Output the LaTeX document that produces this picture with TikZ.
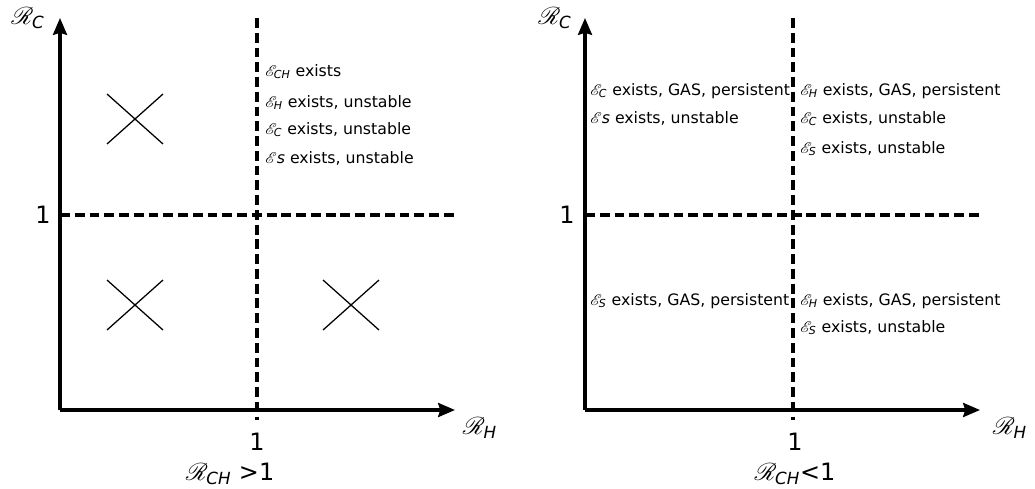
\documentclass[tikz,border=0pt]{standalone}
\usepackage{fontspec}
\setmainfont{DejaVu Sans}
\usepackage{amsmath}
\usepackage{mathrsfs}
\usepackage{tikz}
\usetikzlibrary{arrows.meta}

\begin{document}
\begin{tikzpicture}[
  every node/.style={font=\fontsize{11.2}{13}\selectfont},
  axis/.style={line width=2.2pt, ->},
  divider/.style={line width=2.3pt, dash pattern=on 7pt off 3.5pt},
  crossline/.style={line width=0.9pt},
  info/.style={anchor=base west, inner sep=0pt},
  big/.style={font=\fontsize{17}{20}\selectfont},
  >={Stealth[length=12pt,width=10pt,inset=1.5pt]}
]
\useasboundingbox (0,0) rectangle (25.875,12.2);

% left panel: R_CH > 1
\coordinate (O1) at (1.5,1.95);
\coordinate (ytop1) at (1.5,11.75);
\coordinate (xend1) at (11.375,1.95);
\coordinate (vtop1) at (6.425,11.75);
\coordinate (vbot1) at (6.425,1.7);
\coordinate (hl1) at (1.5,6.825);
\coordinate (hr1) at (11.375,6.825);

\draw[divider] (vtop1) -- (vbot1);
\draw[divider] (hl1) -- (hr1);
\draw[axis] (O1) -- (ytop1);
\draw[axis] (O1) -- (xend1);

\node[big] (rc1) at (0.7,11.75) {$\mathscr{R}_{\textit{C}}$};
\node[big, anchor=west] (rh1) at (11.45,1.5) {$\mathscr{R}_{\textit{H}}$};
\node[big] (one1y) at (1.075,6.825) {1};
\node[big] (one1x) at (6.425,1.15) {1};
\node[big] (cond1) at (5.75,0.35) {$\mathscr{R}_{\textit{CH}}$ >1};

\node[info] (ech) at (6.625,10.3) {$\mathscr{E}_{\textit{CH}}$ exists};
\node[info] (eh1) at (6.625,9.525) {$\mathscr{E}_{\textit{H}}$ exists, unstable};
\node[info] (ec1) at (6.625,8.85) {$\mathscr{E}_{\textit{C}}$ exists, unstable};
\node[info] (es1) at (6.625,8.125) {$\mathscr{E}$\textit{s} exists, unstable};

\foreach \x/\y in {3.375/9.225, 3.375/4.575, 8.775/4.575}
  \draw[crossline] (\x-0.7,\y+0.625) -- (\x+0.7,\y-0.625)
                   (\x-0.7,\y-0.625) -- (\x+0.7,\y+0.625);

% right panel: R_CH < 1
\coordinate (O2) at (14.625,1.95);
\coordinate (ytop2) at (14.625,11.75);
\coordinate (xend2) at (24.5,1.95);
\coordinate (vtop2) at (19.825,11.75);
\coordinate (vbot2) at (19.825,1.7);
\coordinate (hl2) at (14.625,6.825);
\coordinate (hr2) at (24.5,6.825);

\draw[divider] (vtop2) -- (vbot2);
\draw[divider] (hl2) -- (hr2);
\draw[axis] (O2) -- (ytop2);
\draw[axis] (O2) -- (xend2);

\node[big] (rc2) at (13.875,11.75) {$\mathscr{R}_{\textit{C}}$};
\node[big, anchor=west] (rh2) at (24.7,1.5) {$\mathscr{R}_{\textit{H}}$};
\node[big] (one2y) at (14.175,6.825) {1};
\node[big] (one2x) at (19.875,1.15) {1};
\node[big] (cond2) at (19.875,0.35) {$\mathscr{R}_{\textit{CH}}$<1};

\node[info] (ecgas) at (14.75,9.825) {$\mathscr{E}_{\textit{C}}$ exists, GAS, persistent};
\node[info] (es2) at (14.75,9.125) {$\mathscr{E}$\textit{s} exists, unstable};
\node[info] (ehgas) at (20.0,9.825) {$\mathscr{E}_{\textit{H}}$ exists, GAS, persistent};
\node[info] (ec2) at (20.0,9.125) {$\mathscr{E}_{\textit{C}}$ exists, unstable};
\node[info] (es3) at (20.0,8.375) {$\mathscr{E}_{\textit{S}}$ exists, unstable};
\node[info] (esgas) at (14.75,4.575) {$\mathscr{E}_{\textit{S}}$ exists, GAS, persistent};
\node[info] (ehgas2) at (20.0,4.575) {$\mathscr{E}_{\textit{H}}$ exists, GAS, persistent};
\node[info] (es4) at (20.0,3.9) {$\mathscr{E}_{\textit{S}}$ exists, unstable};

\end{tikzpicture}
\end{document}
